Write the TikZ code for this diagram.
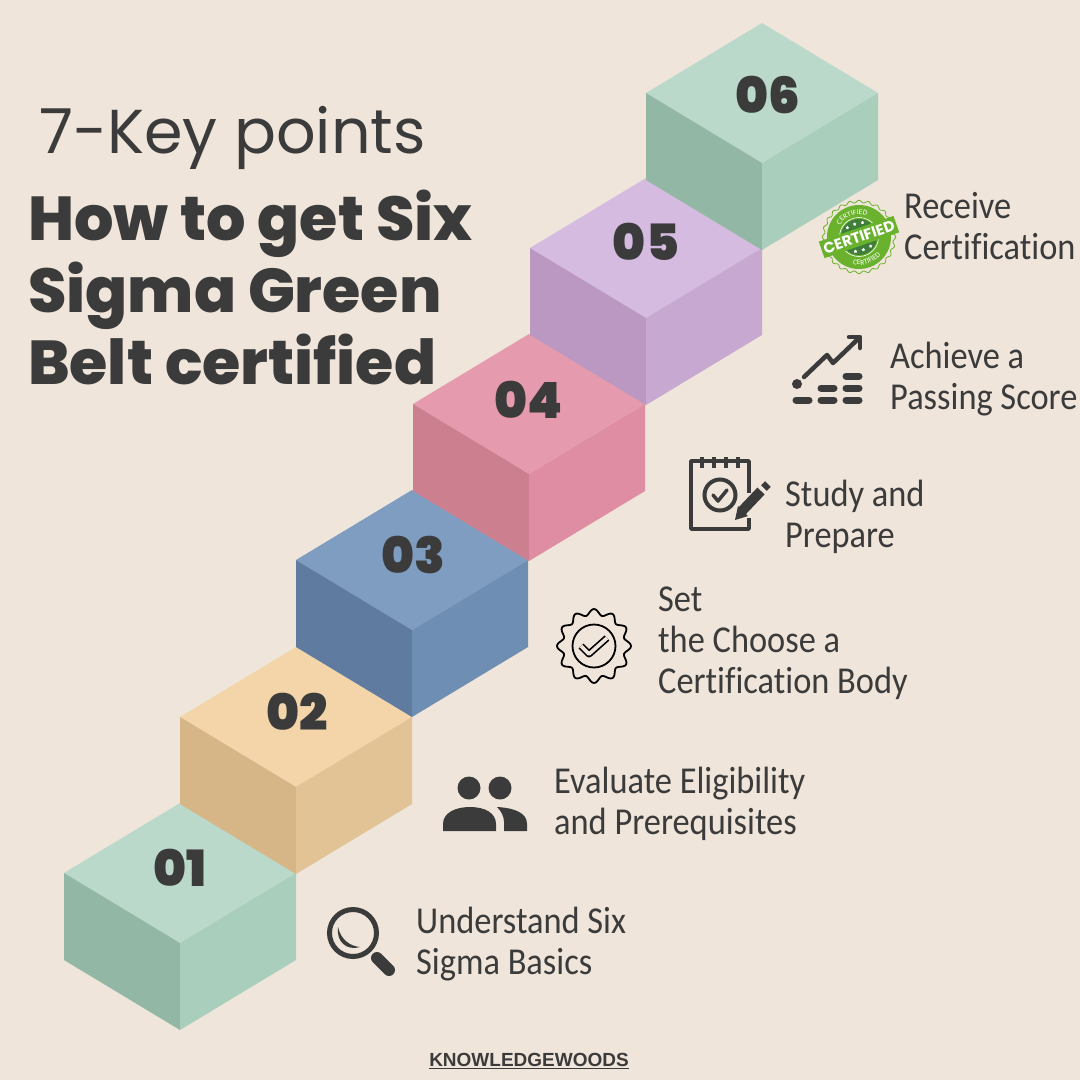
\documentclass[tikz,border=0pt]{standalone}
\usepackage{fontspec}
\setmainfont{Carlito}
\newfontfamily\titlefont{Poppins}
\newfontfamily\headfont{Poppins ExtraBold}
\newfontfamily\sealbandfont{Poppins}[UprightFont=*-Bold]
\newfontfamily\numfont{Poppins Black}
\newfontfamily\bodyfont{Carlito}[FakeStretch=0.905,Ligatures=NoCommon]
\newfontfamily\footfont{Liberation Sans}[UprightFont=* Bold]
\usepackage{tikz}
\usetikzlibrary{calc, shapes.geometric, decorations.text, positioning}
\definecolor{pagebg}{HTML}{EFE5DA}
\definecolor{ink}{HTML}{3B3B3B}
\definecolor{mintT}{HTML}{BAD9CA}
\definecolor{mintL}{HTML}{92B7A5}
\definecolor{mintR}{HTML}{A9CFBC}
\definecolor{sandT}{HTML}{F4D5A9}
\definecolor{sandL}{HTML}{D6B687}
\definecolor{sandR}{HTML}{E1C396}
\definecolor{blueT}{HTML}{7F9DC0}
\definecolor{blueL}{HTML}{5F7CA0}
\definecolor{blueR}{HTML}{6F8EB3}
\definecolor{roseT}{HTML}{E59BAD}
\definecolor{roseL}{HTML}{CC7F8F}
\definecolor{roseR}{HTML}{DF8DA2}
\definecolor{lilacT}{HTML}{D5BBE0}
\definecolor{lilacL}{HTML}{BA98C2}
\definecolor{lilacR}{HTML}{C6A8D0}
\definecolor{sealgreen}{HTML}{6AB22E}
\definecolor{sealdark}{HTML}{3F7D3A}
\newcommand{\sealfont}{\fontsize{7.5}{8}\selectfont\color{white}}
\tikzset{
    steptext/.style = {draw=none, anchor=west, inner sep=0em, align=left, text=ink,
      font=\bodyfont\fontsize{38}{41}\selectfont},
    stepnum/.style = {draw=none, inner sep=0em, text=ink, font=\numfont\fontsize{50}{50}\selectfont},
    headline/.style = {draw=none, anchor=base west, inner sep=0em, text=ink,
      font=\headfont\fontsize{62}{62}\selectfont},
    iconline/.style = {draw=ink, line width=3.5pt, fill=none},
    iconfill/.style = {fill=ink, draw=none},
    iconbar/.style = {draw=ink, line width=7pt, line cap=round},
    sealstar/.style = {star, star points=5, fill=white, inner sep=0em, minimum size=3.5pt}
}
\begin{document}
\begin{tikzpicture}[x=1pt,y=-1pt]
\useasboundingbox (0,0) rectangle (1080,1080);
\fill[pagebg] (0,0) rectangle (1080,1080);

% title
\node [draw=none, anchor=base west, inner sep=0em, text=ink, font=\titlefont\fontsize{62}{62}\selectfont, name=title] at (39,153) {7-Key points};
\node [headline, name=head1] at (28,240) {How to get Six};
\node [headline, name=head2] at (28,312) {Sigma Green};
\node [headline, name=head3] at (28,384) {Belt certified};

% cube 01
\fill[mintT] (180,803) -- (296,873) -- (180,943) -- (64,873) -- cycle;
\fill[mintL] (64,873) -- (180,943) -- (180,1030) -- (64,960) -- cycle;
\fill[mintR] (296,873) -- (180,943) -- (180,1030) -- (296,960) -- cycle;
\node [stepnum, name=num1] at (180,868) {01};

% cube 02
\fill[sandT] (296,647) -- (412,717) -- (296,787) -- (180,717) -- cycle;
\fill[sandL] (180,717) -- (296,787) -- (296,874) -- (180,804) -- cycle;
\fill[sandR] (412,717) -- (296,787) -- (296,874) -- (412,804) -- cycle;
\node [stepnum, name=num2] at (297,712) {02};

% cube 03
\fill[blueT] (412,490) -- (528,560) -- (412,630) -- (296,560) -- cycle;
\fill[blueL] (296,560) -- (412,630) -- (412,717) -- (296,647) -- cycle;
\fill[blueR] (528,560) -- (412,630) -- (412,717) -- (528,647) -- cycle;
\node [stepnum, name=num3] at (413,555) {03};

% cube 04
\fill[roseT] (529,334) -- (645,404) -- (529,474) -- (413,404) -- cycle;
\fill[roseL] (413,404) -- (529,474) -- (529,561) -- (413,491) -- cycle;
\fill[roseR] (645,404) -- (529,474) -- (529,561) -- (645,491) -- cycle;
\node [stepnum, name=num4] at (529,400) {04};

% cube 05
\fill[lilacT] (646,178) -- (762,248) -- (646,318) -- (530,248) -- cycle;
\fill[lilacL] (530,248) -- (646,318) -- (646,405) -- (530,335) -- cycle;
\fill[lilacR] (762,248) -- (646,318) -- (646,405) -- (762,335) -- cycle;
\node [stepnum, name=num5] at (646,242) {05};

% cube 06
\fill[mintT] (762,23) -- (878,93) -- (762,163) -- (646,93) -- cycle;
\fill[mintL] (646,93) -- (762,163) -- (762,250) -- (646,180) -- cycle;
\fill[mintR] (878,93) -- (762,163) -- (762,250) -- (878,180) -- cycle;
\node [stepnum, name=num6] at (768,95) {06};

% step labels
\node [steptext, name=txt1] at (416,944) {Understand Six\\Sigma Basics};
\node [steptext, name=txt2] at (554,804) {Evaluate Eligibility\\and Prerequisites};
\node [steptext, name=txt3] at (658,643) {Set\\the Choose a\\Certification Body};
\node [steptext, name=txt4] at (785,517) {Study and\\Prepare};
\node [steptext, name=txt5] at (890,379) {Achieve a\\Passing Score};
\node [steptext, name=txt6] at (904,226) {Receive\\Certification};

% magnifier
\draw[iconline, line width=5pt] (353,933) circle (23.5);
\draw[iconbar, line width=12pt] (377,958) -- (389,970);
\fill[iconfill] (338,927) .. controls (336,942) and (347,951) .. (360,947) .. controls (350,946) and (341,940) .. cycle;

% people
\fill[ink] (469,788) circle (11.5);
\fill[ink] (500,788) circle (11.5);
\fill[iconfill] (443,831) -- (443,824) .. controls (443,813) and (455,807) .. (470,807) .. controls (485,807) and (496,813) .. (496,824) -- (496,831) -- cycle;
\fill[iconfill] (504,831) -- (504,822) .. controls (504,816) and (501,811) .. (497,807) .. controls (515,808) and (527,813) .. (527,824) -- (527,831) -- cycle;

% seal
\begin{scope}[shift={(594,646)},y=1pt]
\draw[black, line width=1.8pt, smooth, samples=145, domain=0:360] plot ({(34+3*cos(12*\x))*cos(\x)},{(34+3*cos(12*\x))*sin(\x)}) -- cycle;
\draw[black, line width=1.8pt] (0,0) circle (21.5);
\draw[black, line width=7pt, line join=round] (-13,0) -- (-5,-8) -- (13,8);
\draw[pagebg, line width=3.6pt, line join=round] (-13,0) -- (-5,-8) -- (13,8);
\end{scope}

% notepad
\draw[iconline, line join=round] (749,493) -- (749,461) -- (691,461) -- (691,529) -- (749,529) -- (749,518);
\draw[iconline] (702,457) -- (702,468);
\draw[iconline] (714,457) -- (714,468);
\draw[iconline] (726,457) -- (726,468);
\draw[iconline] (738,457) -- (738,468);
\draw[iconline, line width=4pt] (720,495) circle (15.5);
\draw[iconline, line cap=round, line join=round] (713,495) -- (718,501) -- (727,490);
\draw[ink, line width=10pt] (742,511) -- (761,491);
\draw[ink, line width=8pt] (764,488) -- (768,484);
\fill[iconfill] (735,520) -- (738,506) -- (748,516) -- cycle;

% chart
\draw[iconline, line width=4.5pt, line cap=round, line join=round] (804,377) -- (827,355) -- (833,363) -- (858,339);
\draw[iconline, line width=4.5pt, line cap=round, line join=round] (849,337) -- (860,337) -- (860,348);
\fill[ink] (797,384) circle (5);
\draw[iconbar] (796,400) -- (809,400);
\draw[iconbar] (821,400) -- (834,400);
\draw[iconbar] (846,400) -- (859,400);
\draw[iconbar] (821,388) -- (834,388);
\draw[iconbar] (846,388) -- (859,388);
\draw[iconbar] (846,376) -- (859,376);

% certified badge
\begin{scope}[shift={(859,237)},y=1pt]
\draw[sealgreen, line width=0.8pt, smooth, samples=289, domain=0:360] plot ({(35.5+1.2*cos(24*\x))*cos(\x)},{(35.5+1.2*cos(24*\x))*sin(\x)}) -- cycle;
\fill[sealgreen] (0,0) circle (32);
\draw[white, line width=0.6pt] (0,0) circle (19.5);
\fill[sealdark] (0,0) circle (18);
\begin{scope}[rotate=19]
\node [sealstar, name=star1] at (-8,12.5) {};
\node [sealstar, name=star2] at (0,13.5) {};
\node [sealstar, name=star3] at (8,12.5) {};
\node [sealstar, name=star4] at (-8,-12.5) {};
\node [sealstar, name=star5] at (0,-13.5) {};
\node [sealstar, name=star6] at (8,-12.5) {};
\path[decorate, decoration={text along path, text={|\sealfont|CERTIFIED}, text align=center}] (155:22.5) arc (155:25:22.5);
\path[decorate, decoration={text along path, text={|\sealfont|CERTIFIED}, text align=center}] (205:28) arc (205:335:28);
\fill[sealgreen] (-39.5,-8.7) rectangle (39.5,8.7);
\node [draw=none, inner sep=0em, text=white, transform shape, font=\sealbandfont\fontsize{15}{15}\selectfont, name=sealband] at (0,0) {CERTIFIED};
\end{scope}
\end{scope}

% footer
\node [draw=none, inner sep=0em, text=ink, font=\footfont\fontsize{19}{20}\selectfont, name=footer] at (529,1061) {\underline{KNOWLEDGEWOODS}};
\end{tikzpicture}
\end{document}
